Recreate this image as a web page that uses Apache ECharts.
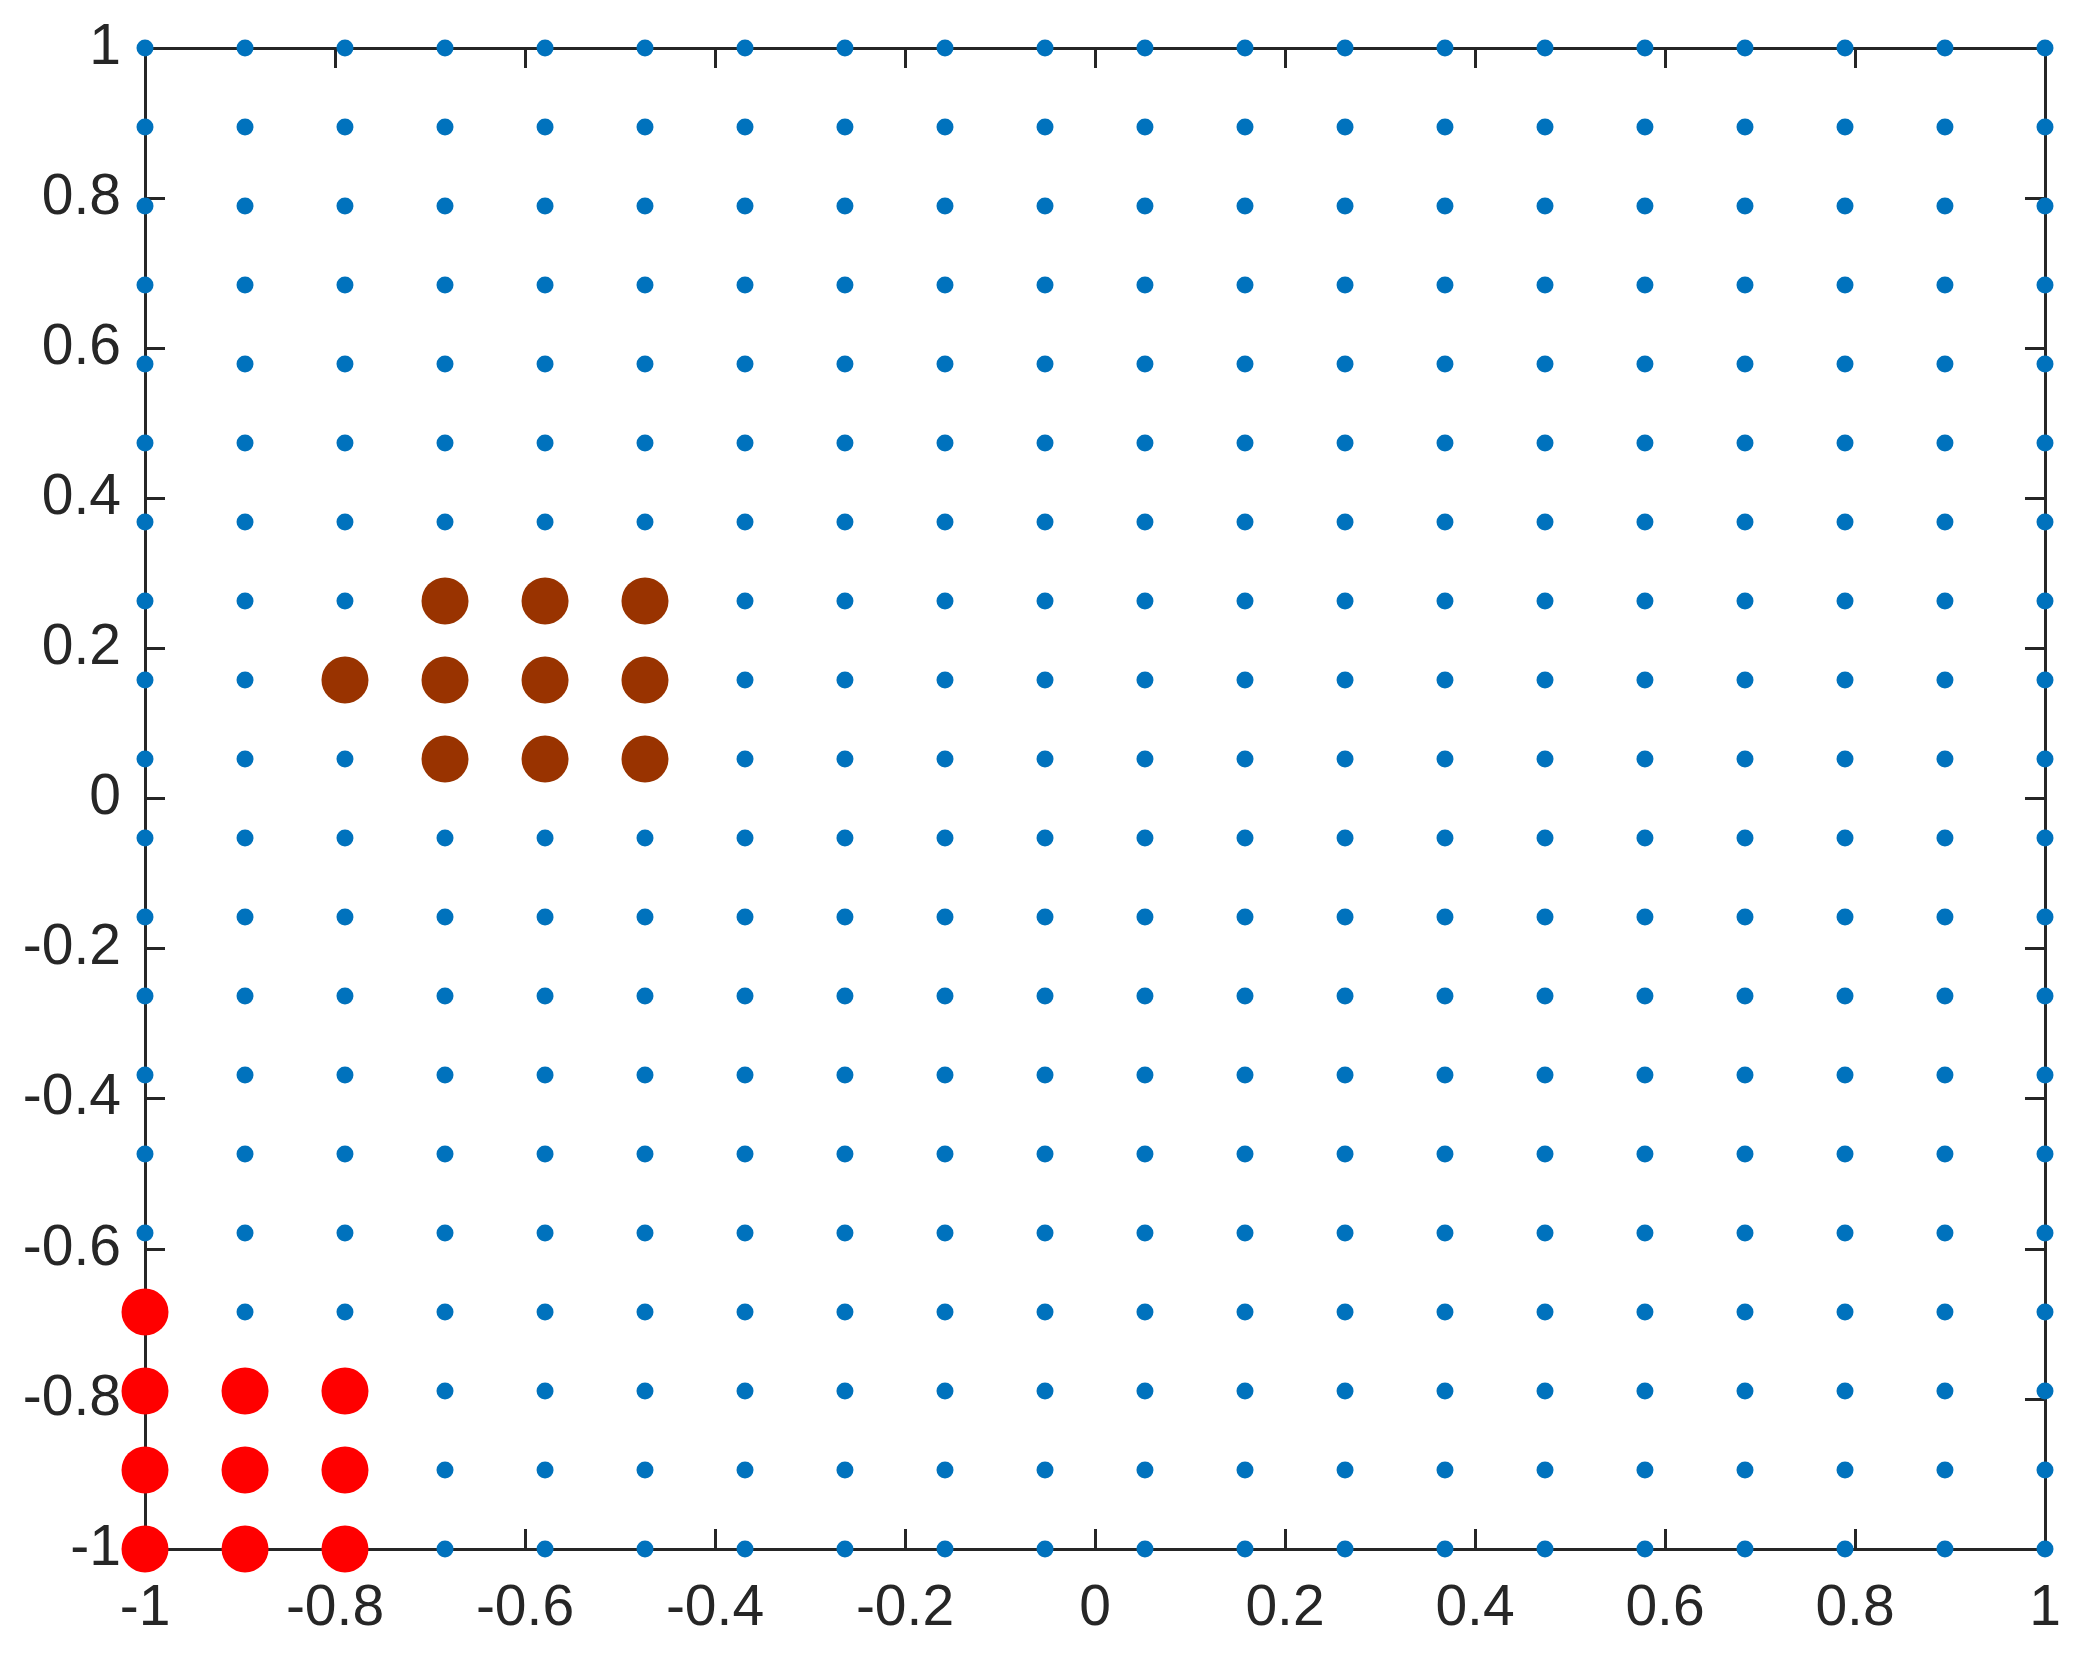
<!DOCTYPE html>
<html>
<head>
<meta charset="utf-8">
<script src="https://cdn.jsdelivr.net/npm/echarts@6/dist/echarts.min.js"></script>
<style>
  html, body { margin: 0; padding: 0; background: #fff; }
  #chart { width: 2078px; height: 1665px; }
</style>
</head>
<body>
<div id="chart"></div>
<script>
// grid node coordinates (20 x 20)
const gridX = [-1, -0.8947, -0.7895, -0.6842, -0.5789, -0.4737, -0.3684, -0.2632, -0.1579, -0.0526,
  0.0526, 0.1579, 0.2632, 0.3684, 0.4737, 0.5789, 0.6842, 0.7895, 0.8947, 1];
const gridY = [-1, -0.8947, -0.7895, -0.6842, -0.5789, -0.4737, -0.3684, -0.2632, -0.1579, -0.0526,
  0.0526, 0.1579, 0.2632, 0.3684, 0.4737, 0.5789, 0.6842, 0.7895, 0.8947, 1];

// highlighted nodes
const redPoints = [
  [-1, -0.6842],
  [-1, -0.7895], [-0.8947, -0.7895], [-0.7895, -0.7895],
  [-1, -0.8947], [-0.8947, -0.8947], [-0.7895, -0.8947],
  [-1, -1], [-0.8947, -1], [-0.7895, -1]
];
const brownPoints = [
  [-0.6842, 0.2632], [-0.5789, 0.2632], [-0.4737, 0.2632],
  [-0.7895, 0.1579], [-0.6842, 0.1579], [-0.5789, 0.1579], [-0.4737, 0.1579],
  [-0.6842, 0.0526], [-0.5789, 0.0526], [-0.4737, 0.0526]
];

const tickLabels = [-1, -0.8, -0.6, -0.4, -0.2, 0, 0.2, 0.4, 0.6, 0.8, 1];

var gridPoints = [];
gridY.forEach(function (y) {
  gridX.forEach(function (x) {
    gridPoints.push([x, y]);
  });
});

var axisColor = '#262626';
var font = '"Liberation Sans", Arial, Helvetica, sans-serif';

function makeAxis(pos, showLabel, margin) {
  return {
    type: 'value',
    position: pos,
    min: -1,
    max: 1,
    interval: 0.2,
    splitLine: { show: false },
    axisLine: { show: true, onZero: false, lineStyle: { color: axisColor, width: 3 } },
    axisTick: { show: true, inside: true, length: 20, lineStyle: { color: axisColor, width: 3 } },
    axisLabel: {
      show: showLabel,
      color: axisColor,
      fontSize: 57,
      fontFamily: font,
      margin: margin,
      formatter: function (v) {
        var s = +v.toFixed(1);
        return tickLabels.indexOf(s) >= 0 ? String(s) : '';
      }
    }
  };
}

var chart = echarts.init(document.getElementById('chart'), null, { renderer: 'canvas' });

var option = {
  backgroundColor: '#ffffff',
  animation: false,
  grid: { left: 145, right: 33, top: 48, bottom: 116 },
  xAxis: [makeAxis('bottom', true, 32), makeAxis('top', false, 8)],
  yAxis: [makeAxis('left', true, 24), makeAxis('right', false, 8)],
  series: [
    {
      type: 'scatter',
      data: gridPoints,
      symbolSize: 17,
      itemStyle: { color: '#0072BD', opacity: 1 },
      emphasis: { disabled: true },
      z: 3
    },
    {
      type: 'scatter',
      data: redPoints,
      symbolSize: 47,
      itemStyle: { color: '#FF0000', opacity: 1 },
      emphasis: { disabled: true },
      z: 4
    },
    {
      type: 'scatter',
      data: brownPoints,
      symbolSize: 47,
      itemStyle: { color: '#993300', opacity: 1 },
      emphasis: { disabled: true },
      z: 4
    }
  ]
};

option && chart.setOption(option);
</script>
</body>
</html>
